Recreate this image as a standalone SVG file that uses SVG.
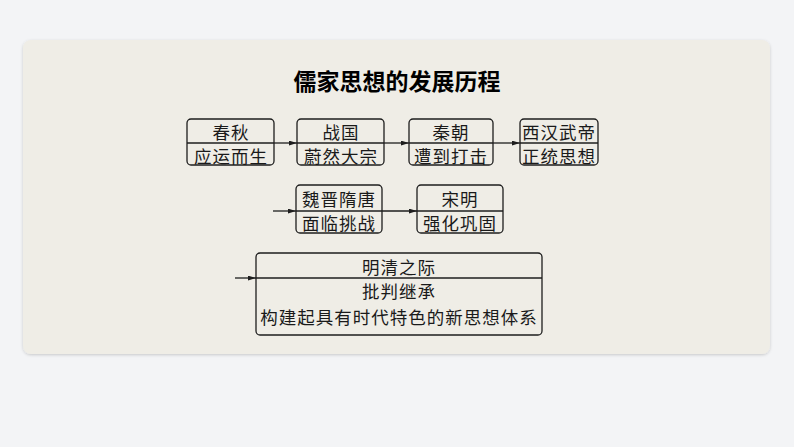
<svg xmlns="http://www.w3.org/2000/svg" width="794" height="447" viewBox="0 0 794 447">
<defs>
<style>
.box{fill:none;stroke:#1e1e1e;stroke-width:1.3}
.div{stroke:#1e1e1e;stroke-width:1.3}
.t{font-family:"Noto Sans CJK SC","Liberation Serif",serif;font-size:17.5px;fill:#1a1a1a;text-anchor:middle;dominant-baseline:central;letter-spacing:1px}
.title{font-family:"Noto Sans CJK SC","Liberation Sans",sans-serif;font-size:23px;font-weight:bold;fill:#000;text-anchor:middle;dominant-baseline:central}
.con{stroke:#1e1e1e;stroke-width:1.3;fill:none;marker-end:url(#ah)}
</style>
<marker id="ah" viewBox="0 0 10 6" refX="10" refY="3" markerWidth="8" markerHeight="5" markerUnits="userSpaceOnUse" orient="auto">
<path d="M0,0 L10,3 L0,6 z" fill="#1e1e1e"/>
</marker>
<filter id="sh" x="-5%" y="-5%" width="110%" height="110%">
<feDropShadow dx="0" dy="1" stdDeviation="1.5" flood-color="#000" flood-opacity="0.18"/>
</filter>
</defs>
<rect width="794" height="447" fill="#f3f4f6"/>
<rect x="23" y="40" width="747" height="314" rx="8" fill="#efede6" filter="url(#sh)"/>
<text class="title" x="397" y="80">儒家思想的发展历程</text>
<g id="connectors">
<line class="con" x1="274" y1="143" x2="297" y2="143"/>
<line class="con" x1="384" y1="143" x2="409" y2="143"/>
<line class="con" x1="493" y1="143" x2="520" y2="143"/>
<line class="con" x1="273" y1="211" x2="296" y2="211"/>
<line class="con" x1="382" y1="211" x2="417" y2="211"/>
<line class="con" x1="235" y1="278" x2="256" y2="278"/>
</g>
<g id="n1">
<rect class="box" x="187" y="119" width="87" height="46" rx="4"/>
<line class="div" x1="187" y1="143" x2="274" y2="143"/>
<text class="t" x="231" y="131">春秋</text>
<text class="t" x="231" y="155">应运而生</text>
</g>
<g id="n2">
<rect class="box" x="297" y="119" width="87" height="46" rx="4"/>
<line class="div" x1="297" y1="143" x2="384" y2="143"/>
<text class="t" x="341" y="131">战国</text>
<text class="t" x="341" y="155">蔚然大宗</text>
</g>
<g id="n3">
<rect class="box" x="409" y="119" width="84" height="46" rx="4"/>
<line class="div" x1="409" y1="143" x2="493" y2="143"/>
<text class="t" x="451" y="131">秦朝</text>
<text class="t" x="451" y="155">遭到打击</text>
</g>
<g id="n4">
<rect class="box" x="520" y="119" width="78" height="46" rx="4"/>
<line class="div" x1="520" y1="143" x2="598" y2="143"/>
<text class="t" x="559" y="131">西汉武帝</text>
<text class="t" x="559" y="155">正统思想</text>
</g>
<g id="n5">
<rect class="box" x="296" y="185" width="86" height="48" rx="4"/>
<line class="div" x1="296" y1="211" x2="382" y2="211"/>
<text class="t" x="339" y="198">魏晋隋唐</text>
<text class="t" x="339" y="222">面临挑战</text>
</g>
<g id="n6">
<rect class="box" x="417" y="185" width="86" height="48" rx="4"/>
<line class="div" x1="417" y1="211" x2="503" y2="211"/>
<text class="t" x="460" y="198">宋明</text>
<text class="t" x="460" y="222">强化巩固</text>
</g>
<g id="n7">
<rect class="box" x="256" y="253" width="286" height="82" rx="4"/>
<line class="div" x1="256" y1="278" x2="542" y2="278"/>
<text class="t" x="399" y="266">明清之际</text>
<text class="t" x="399" y="290">批判继承</text>
<text class="t" x="399" y="316">构建起具有时代特色的新思想体系</text>
</g>
</svg>
